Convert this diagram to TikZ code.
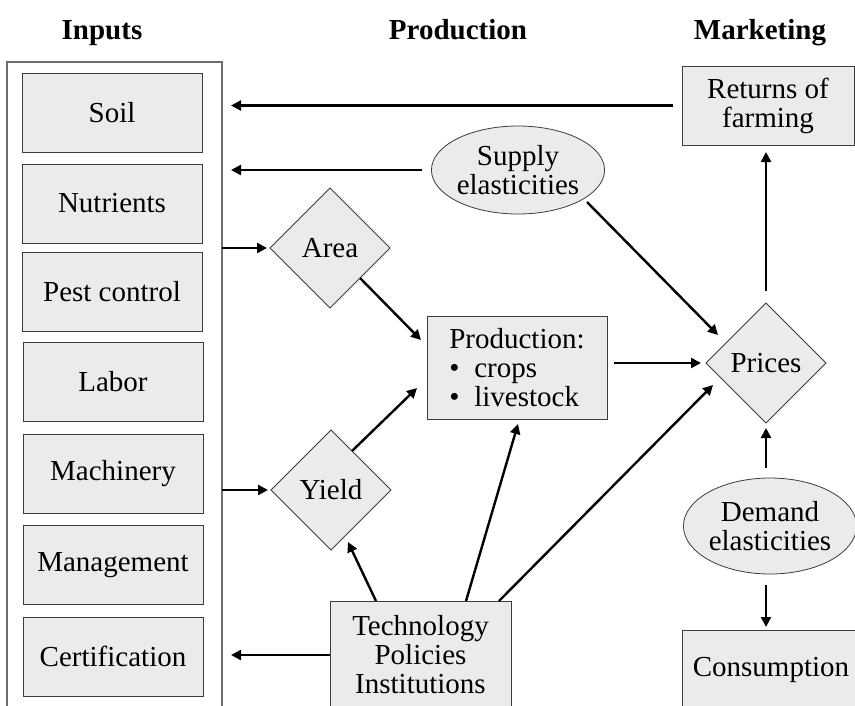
\documentclass[tikz,border=0pt]{standalone}
\usepackage{fontspec}
\setmainfont{Liberation Serif}
\usetikzlibrary{shapes.geometric,arrows.meta,calc}

\definecolor{boxfill}{RGB}{235,235,235}
\definecolor{boxline}{RGB}{60,60,60}
\definecolor{frameline}{RGB}{110,110,110}

\begin{document}
\begin{tikzpicture}[x=1pt,y=-1pt,
  every node/.style={font=\fontsize{29}{29}\selectfont},
  box/.style={draw=boxline, line width=0.9pt, fill=boxfill, rectangle,
    inner sep=0pt, outer sep=0pt, align=center},
  inbox/.style={box, minimum width=180pt, minimum height=79pt},
  dia/.style={draw=boxline, line width=0.8pt, fill=boxfill, diamond,
    minimum width=120pt, minimum height=120pt, inner sep=0pt, outer sep=0pt},
  ell/.style={draw=boxline, line width=0.8pt, fill=boxfill, ellipse,
    minimum width=164pt, minimum height=92pt, inner sep=0pt, outer sep=0pt,
    align=center},
  column/.style={draw=frameline, line width=1.2pt, rectangle, inner sep=0pt,
    outer sep=0pt, minimum width=215pt, minimum height=658pt},
  title/.style={font=\fontsize{29}{29}\selectfont\bfseries, anchor=base},
  arr/.style={line width=2.4pt, -{Triangle[length=10pt,width=10pt]}}
]
\clip (0,0) rectangle (855,705);

% column headings
\node[title] (hin)   at (102,39) {Inputs};
\node[title] (hprod) at (458,39) {Production};
\node[title] (hmkt)  at (760,39) {Marketing};

% inputs column
\node[column] (col) at (114.5,391) {};
\node[inbox] (soil) at (112,112.5) {Soil};
\node[inbox] (nutr) at (112,203.5) {Nutrients};
\node[inbox] (pest) at (112,292)   {Pest control};
\node[inbox] (labor) at (113,382)  {Labor};
\node[inbox] (mach) at (113,474)   {Machinery};
\node[inbox] (mgmt) at (113,565)   {Management};
\node[inbox] (cert) at (113,656.5) {Certification};

% production
\node[dia] (area)  at (330,248) {Area};
\node[dia] (yield) at (331,490) {Yield};
\node[box, minimum width=180pt, minimum height=103pt, align=left] (prod)
  at (517,367.5)
  {Production:\\\makebox[25pt][l]{\textbullet}crops\\\makebox[25pt][l]{\textbullet}livestock};
\node[box, minimum width=181pt, minimum height=108pt] (tech) at (420.5,655)
  {Technology\\Policies\\Institutions};
\node[ell, minimum height=88pt] (supply) at (518,170) {Supply\\elasticities};

% marketing
\node[box, minimum width=172pt, minimum height=79pt] (ret) at (768,105.5)
  {Returns of\\farming};
\node[dia] (prices) at (766,363) {Prices};
\node[ell, minimum height=96pt] (demand) at (770,526) {Demand\\elasticities};
\node[box, minimum width=178pt, minimum height=80pt] (cons) at (771,670)
  {Consumption};

% feedback into the inputs column
\draw[arr, shorten <=9pt, shorten >=9pt] (ret.west) -- (col.east |- ret.west);
\draw[arr, shorten <=9pt, shorten >=9pt] (supply.west) -- (col.east |- supply.west);
\draw[arr, shorten >=9pt] (tech.west) -- (col.east |- tech.west);

% inputs to area and yield
\draw[arr, shorten >=3pt] (col.east |- area.west) -- (area.west);
\draw[arr, shorten >=3pt] (col.east |- yield.west) -- (yield.west);

% area and yield to production
\draw[arr] (area.south east) -- ($(prod.north west)+(-6,24)$);
\draw[arr] ($(yield.north)!0.35!(yield.east)$) -- ($(prod.south west)+(-10,-31)$);

% technology, policies, institutions
\draw[arr] ($(tech.north west)+(46,0)$) -- ($(yield.south)+(17,-8)$);
\draw[arr] ($(tech.north west)+(136,0)$) -- ($(prod.south)+(1,5)$);
\draw[arr] ($(tech.north east)+(-12,0)$) -- ($(prices.west)+(7,22)$);

% prices
\draw[arr, shorten <=7pt, shorten >=5pt] (prod.east |- prices.west) -- (prices.west);
\draw[arr] ($(supply.center)+(69,32)$) -- ($(prices.north)+(-48,32)$);
\draw[arr, shorten <=12pt, shorten >=7pt] (prices.north) -- (prices.north |- ret.south);
\draw[arr, shorten <=10pt, shorten >=5pt] (demand.north -| prices.south) -- (prices.south);
\draw[arr, shorten <=11pt, shorten >=3pt] (demand.south -| prices.south) -- (cons.north -| prices.south);
\end{tikzpicture}
\end{document}
